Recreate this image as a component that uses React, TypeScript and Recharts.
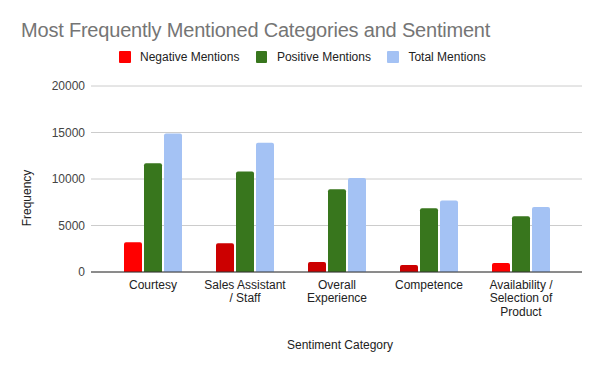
import React from 'react';
import { BarChart, Bar, XAxis, YAxis, CartesianGrid, Cell } from 'recharts';

// Data
const categories = [
  'Courtesy',
  'Sales Assistant / Staff',
  'Overall Experience',
  'Competence',
  'Availability / Selection of Product',
];
const categoryLines = [
  ['Courtesy'],
  ['Sales Assistant', '/ Staff'],
  ['Overall', 'Experience'],
  ['Competence'],
  ['Availability /', 'Selection of', 'Product'],
];
const negativeMentions = [3200, 3100, 1070, 750, 960];
const positiveMentions = [11700, 10800, 8900, 6850, 6000];
const totalMentions = [14900, 13900, 10100, 7700, 7000];
const negativeColors = ['#ff0000', '#cc0000', '#cc0000', '#cc0000', '#ff0000'];
const yTicks = [0, 5000, 10000, 15000, 20000];

const FONT = '"Liberation Sans", Arial, sans-serif';
const POS_COLOR = '#38761d';
const TOTAL_COLOR = '#a4c2f4';

const chartData = categories.map((name, i) => ({
  name,
  negative: negativeMentions[i],
  positive: positiveMentions[i],
  total: totalMentions[i],
}));

const legendItems = [
  { label: 'Negative Mentions', color: '#ff0000' },
  { label: 'Positive Mentions', color: POS_COLOR },
  { label: 'Total Mentions', color: TOTAL_COLOR },
];

// x tick, wrapped on fixed lines like the source chart
const CategoryTick = (props: any) => {
  const { x, y, payload } = props;
  const idx = categories.indexOf(payload.value);
  const lines = idx >= 0 ? categoryLines[idx] : [payload.value];
  return (
    <text x={x} y={y} textAnchor="middle" fill="#222" fontSize={12} fontFamily={FONT}>
      {lines.map((line, i) => (
        <tspan key={i} x={x} dy={i === 0 ? 17 : 13.4}>
          {line}
        </tspan>
      ))}
    </text>
  );
};

export default function App() {
  return (
    <div style={{ position: 'absolute', left: 0, top: 0, width: 600, height: 371, background: '#fff', fontFamily: FONT }}>
      <div
        style={{
          position: 'absolute',
          left: 21,
          top: 18.5,
          fontSize: 20,
          letterSpacing: -0.2,
          color: '#757575',
          whiteSpace: 'nowrap',
        }}
      >
        Most Frequently Mentioned Categories and Sentiment
      </div>

      {/* legend */}
      <div style={{ position: 'absolute', left: 119, top: 50, display: 'flex', alignItems: 'center', fontSize: 12, color: '#222' }}>
        {legendItems.map((item) => (
          <div key={item.label} style={{ display: 'flex', alignItems: 'center', marginRight: 16.5 }}>
            <div style={{ width: 11.5, height: 11.5, background: item.color, borderRadius: 1, marginRight: 9.5 }} />
            <span>{item.label}</span>
          </div>
        ))}
      </div>

      <BarChart
        width={600}
        height={371}
        data={chartData}
        margin={{ top: 86, right: 18, bottom: 0, left: 0 }}
        barGap={2}
        barSize={18}
      >
        <CartesianGrid vertical={false} stroke="#cccccc" />
        <XAxis
          dataKey="name"
          height={99}
          interval={0}
          padding={{ left: 16, right: 15 }}
          tickLine={false}
          tickSize={0}
          tickMargin={0}
          axisLine={{ stroke: '#333', strokeWidth: 1 }}
          tick={<CategoryTick />}
        />
        <YAxis
          width={91}
          domain={[0, 20000]}
          ticks={yTicks}
          tickLine={false}
          axisLine={false}
          tickSize={0}
          tickMargin={6}
          tick={{ fontSize: 12, fill: '#444', fontFamily: FONT }}
        />
        <Bar dataKey="negative" isAnimationActive={false} radius={[2, 2, 0, 0]}>
          {chartData.map((_, i) => (
            <Cell key={i} fill={negativeColors[i]} />
          ))}
        </Bar>
        <Bar dataKey="positive" fill={POS_COLOR} isAnimationActive={false} radius={[2, 2, 0, 0]} />
        <Bar dataKey="total" fill={TOTAL_COLOR} isAnimationActive={false} radius={[2, 2, 0, 0]} />
      </BarChart>

      <div
        style={{
          position: 'absolute',
          left: 27,
          top: 198,
          fontSize: 12,
          color: '#222',
          whiteSpace: 'nowrap',
          transform: 'translate(-50%, -50%) rotate(-90deg)',
        }}
      >
        Frequency
      </div>
      <div
        style={{
          position: 'absolute',
          left: 340,
          top: 345,
          fontSize: 12,
          color: '#222',
          whiteSpace: 'nowrap',
          transform: 'translate(-50%, -50%)',
        }}
      >
        Sentiment Category
      </div>
    </div>
  );
}
